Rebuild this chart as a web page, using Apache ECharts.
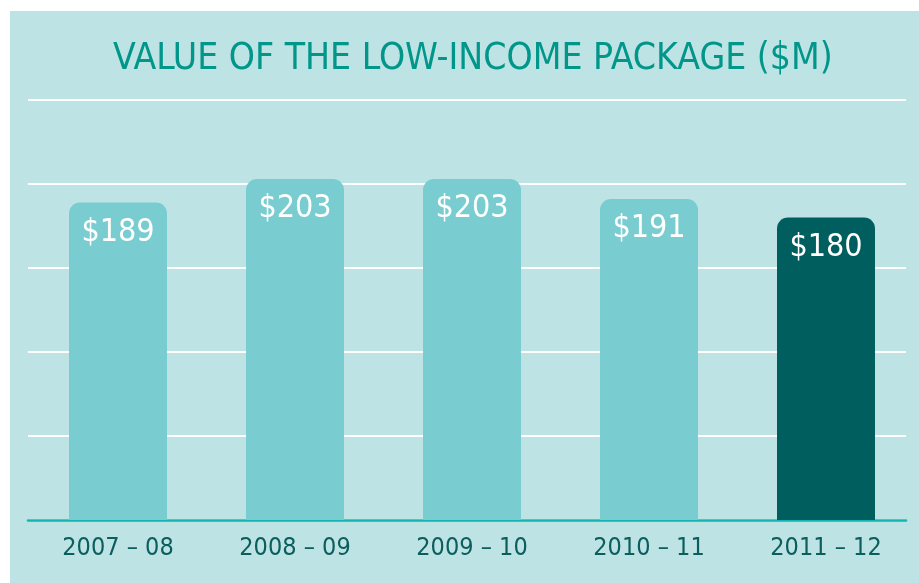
<!DOCTYPE html>
<html>
<head>
    <meta charset="utf-8">
    <title>Value of the low-income package</title>
    <script src="https://cdn.jsdelivr.net/npm/echarts@6/dist/echarts.min.js"></script>
    <style>
        html, body { margin: 0; padding: 0; background: #ffffff; }
        #chart { position: absolute; left: 10px; top: 11px; width: 909px; height: 572px; }
    </style>
</head>
<body>
<div id="chart"></div>
<script>
    var years = ['2007 – 08', '2008 – 09', '2009 – 10', '2010 – 11', '2011 – 12'];
    var values = [189, 203, 203, 191, 180];
    var barColors = ['#79cdd0', '#79cdd0', '#79cdd0', '#79cdd0', '#005e5e'];

    var font = '"DejaVu Sans Condensed", "DejaVu Sans", sans-serif';

    var chart = echarts.init(document.getElementById('chart'));

    var option = {
        backgroundColor: '#bee3e4',
        title: {
            text: 'VALUE OF THE LOW-INCOME PACKAGE ($M)',
            left: 98,
            top: 25,
            textStyle: {
                color: '#00968a',
                fontFamily: font,
                fontWeight: 'normal',
                fontSize: 37
            }
        },
        grid: [
            // axis line + white gridlines
            { left: 18, right: 13, top: 89, bottom: 63 },
            // bars + labels
            { left: 19.5, right: 4.5, top: 89, bottom: 63 }
        ],
        xAxis: [
            {
                type: 'category',
                gridIndex: 0,
                data: years,
                axisLine: { lineStyle: { color: '#12b5b0', width: 2.5 } },
                axisTick: { show: false },
                axisLabel: { show: false }
            },
            {
                type: 'category',
                gridIndex: 1,
                data: years,
                axisLine: { show: false },
                axisTick: { show: false },
                axisLabel: {
                    color: '#0b5e5e',
                    fontFamily: font,
                    fontSize: 25,
                    margin: 16
                }
            }
        ],
        yAxis: [
            {
                type: 'value',
                gridIndex: 0,
                min: 0,
                max: 250,
                interval: 50,
                axisLabel: { show: false },
                axisLine: { show: false },
                axisTick: { show: false },
                splitLine: { lineStyle: { color: '#ffffff', width: 2 } }
            },
            {
                type: 'value',
                gridIndex: 1,
                min: 0,
                max: 250,
                interval: 50,
                show: false,
                splitLine: { show: false }
            }
        ],
        series: [
            {
                type: 'bar',
                xAxisIndex: 1,
                yAxisIndex: 1,
                barWidth: 98,
                data: values.map(function (v, i) {
                    return { value: v, itemStyle: { color: barColors[i] } };
                }),
                itemStyle: { borderRadius: [11, 11, 0, 0] },
                label: {
                    show: true,
                    position: ['50%', 30],
                    align: 'center',
                    verticalAlign: 'middle',
                    color: '#ffffff',
                    fontFamily: font,
                    fontSize: 32,
                    formatter: function (p) { return '$' + p.value; }
                },
                animation: false
            }
        ],
        animation: false
    };

    chart.setOption(option);
</script>
</body>
</html>
